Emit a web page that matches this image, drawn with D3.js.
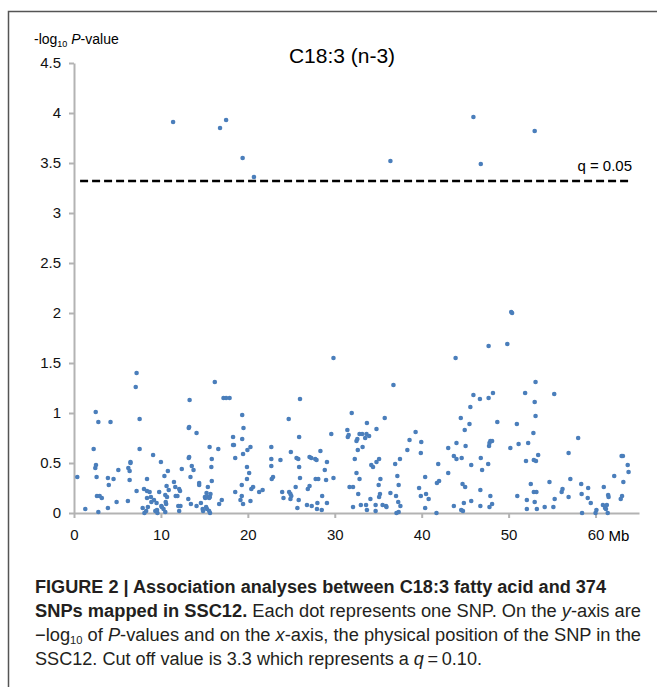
<!DOCTYPE html>
<meta charset="utf-8">
<script src="https://d3js.org/d3.v7.min.js"></script>
<style>
body { margin: 0; background: #fff; }
svg { display: block; }
.tick text { font-family: "Liberation Sans Narrow", "Liberation Sans", Arial, sans-serif; font-size: 15px; fill: #111; }
.axis path, .axis line { stroke: #b3b3b3; stroke-width: 2; }
.cap { font-family: "Liberation Sans Narrow", "Liberation Sans", Arial, sans-serif; font-size: 18px; fill: #231f20; }
</style>
<svg width="657" height="687"></svg>
<script>
// SNP position (Mb) and -log10 P-value
const snps = [
  [0.38,0.36],[1.3,0.04],[2.26,0.64],[2.45,0.45],[2.53,0.48],[2.5,1.01],[2.6,0.36],[2.64,0.17],[2.8,0.91],[2.8,0.01],
  [2.95,0.17],[3.2,0.15],[3.9,0.35],[3.9,0.05],[4.0,0.28],[4.2,0.91],[4.55,0.34],[4.9,0.11],[5.1,0.43],[6.2,0.12],
  [6.25,0.45],[6.4,0.42],[6.4,0.33],[6.5,0.51],[6.5,0.5],[7.1,1.26],[7.2,1.4],[7.2,0.22],[7.55,0.94],[7.55,0.64],
  [7.9,0.05],[8.05,0.24],[8.1,0.0],[8.3,0.02],[8.4,0.34],[8.4,0.22],[8.4,0.15],[8.5,0.06],[8.7,0.21],[8.85,0.16],
  [8.9,0.11],[9.1,0.58],[9.2,0.13],[9.35,0.02],[9.5,0.1],[9.55,0.03],[9.6,0.0],[9.8,0.21],[10.0,0.51],[10.05,0.07],
  [10.1,0.06],[10.3,0.04],[10.4,0.37],[10.5,0.18],[10.5,0.01],[10.55,0.11],[10.6,0.09],[10.65,0.27],[10.7,0.16],[10.8,0.42],
  [10.9,0.23],[11.4,3.91],[11.5,0.31],[11.65,0.26],[11.7,0.17],[11.9,0.17],[12.0,0.07],[12.1,0.24],[12.1,0.02],[12.2,0.22],
  [12.25,0.07],[12.4,0.44],
  [13.15,0.14],[13.2,0.85],[13.25,0.86],[13.2,0.55],[13.25,0.56],[13.3,1.13],[13.4,0.36],[13.45,0.09],[13.55,0.47],[13.75,0.43],
  [14.1,0.8],[14.1,0.07],[14.4,0.3],[14.4,0.28],[14.6,0.1],[14.8,0.04],[14.85,0.02],[15.06,0.16],[15.1,0.15],[15.2,0.06],
  [15.25,0.2],[15.3,0.04],[15.37,0.16],[15.4,0.26],[15.55,0.15],[15.55,0.02],[15.6,0.66],[15.63,0.16],[15.65,0.0],[15.7,0.19],
  [15.8,0.46],[15.85,0.54],[15.85,0.32],[16.2,1.31],[16.6,0.64],[16.7,0.09],[16.8,3.85],[17.0,0.13],[17.2,1.15],[17.5,1.15],
  [17.5,3.93],[17.9,1.15],[18.3,0.76],[18.3,0.68],[18.4,0.68],[18.55,0.55],[18.55,0.21],[19.15,0.13],[19.3,0.28],[19.3,0.17],
  [19.35,0.98],[19.35,0.74],[19.4,3.55],[19.45,0.59],[19.45,0.09],[19.5,0.85],[19.9,0.46],[19.9,0.34],[19.95,0.63],[20.15,0.4],
  [20.3,0.66],[20.3,0.12],[20.4,0.24],[20.6,0.26],[20.7,3.36],[21.3,0.21],[21.7,0.23],[22.7,0.66],[22.7,0.54],[22.7,0.47],
  [22.75,0.34],[22.9,0.36],[23.75,0.53],[23.95,0.21],[24.1,0.15],[24.7,0.94],[24.75,0.21],[24.9,0.19],[24.9,0.14],[24.95,0.61],
  [25.0,0.17],[25.5,0.26],[25.6,0.55],[25.7,0.05],[25.8,0.54],[25.85,0.13],[25.9,0.76],[25.9,0.46],[26.0,0.35],[26.0,1.14],
  [26.8,0.08],[26.9,0.24],[27.1,0.27],[27.1,0.56],[27.3,0.55],[27.35,0.07],[27.75,0.54],[27.8,0.34],[27.9,0.53],[27.95,0.04],
  [28.0,0.1],[28.1,0.34],[28.35,0.62],[28.5,0.03],[28.55,0.17],[28.85,0.43],[29.0,0.33],[29.1,0.51],[29.1,0.1],[29.6,0.79],
  [29.85,1.55],[29.85,0.35],[31.45,0.83],[31.5,0.76],[31.6,0.78],[31.7,0.26],[31.95,1.0],[32.1,0.26],[32.1,0.06],[32.3,0.54],
  [32.5,0.72],[32.5,0.4],[32.6,0.74],[32.65,0.63],[32.7,0.19],[32.85,0.79],[32.85,0.34],[33.0,0.08],[33.15,0.79],[33.2,0.66],
  [33.5,0.75],[33.6,0.08],[33.65,0.79],[33.7,0.9],[33.7,0.03],[33.95,0.77],[34.1,0.14],[34.2,0.48],[34.4,0.46],[34.7,0.08],
  [34.7,0.02],[34.8,0.84],[34.8,0.51],[35.05,0.28],[35.1,0.54],[35.1,0.16],[35.2,0.19],[35.25,0.34],[35.5,0.08],[35.75,0.95],
  [35.9,0.07],[35.95,0.06],[36.4,0.2],[36.4,3.52],[36.75,1.28],[36.95,0.49],[37.05,0.17],[37.1,0.0],[37.2,0.37],[37.3,0.11],
  [37.35,0.28],[37.35,0.01],[37.5,0.54],[37.55,0.07],[38.35,0.63],[38.6,0.73],
  [39.3,0.81],[39.7,0.25],[39.9,0.6],[39.9,0.17],[39.95,0.71],[40.4,0.36],[40.4,0.05],[40.5,0.19],[40.8,0.14],[41.7,0.0],
  [41.75,0.3],[41.9,0.49],[42.0,0.32],[43.05,0.65],[43.05,0.4],[43.7,0.57],[43.7,0.07],[43.9,1.55],[44.0,0.7],[44.0,0.54],
  [44.5,0.95],[44.55,0.03],[44.6,0.55],[44.7,0.29],[44.75,0.02],[44.85,0.1],[44.95,0.83],[45.0,0.26],[45.05,0.67],[45.5,0.89],
  [45.6,1.06],[45.7,0.48],[45.7,0.12],[45.95,1.18],[45.95,3.96],[46.7,1.14],[46.75,0.23],[46.75,0.07],[46.8,0.55],[46.8,3.49],
  [46.95,0.43],[47.65,0.49],[47.7,1.67],[47.7,1.15],[47.75,0.67],[47.8,0.7],[47.8,0.06],[47.9,0.72],[47.9,0.17],[48.1,0.72],
  [48.1,0.09],[48.2,1.2],[48.7,0.91],[49.85,1.69],[50.2,0.65],[50.3,2.01],[50.4,2.0],[50.95,0.89],[51.0,0.17],[51.15,0.69],
  [51.9,1.2],[52.0,0.52],[52.1,0.13],[52.1,0.04],
  [52.25,0.7],[52.55,0.29],[52.85,0.8],[52.9,0.53],[52.9,0.21],[53.0,1.11],[53.0,0.11],[53.0,3.82],[53.1,1.31],[53.1,0.97],
  [53.15,0.52],[53.2,0.21],[53.25,0.04],[53.4,0.58],[54.15,0.06],[54.7,0.31],[55.15,0.06],[55.25,1.19],[55.3,0.14],[56.1,0.21],
  [56.2,0.24],[56.9,0.6],[56.9,0.16],[57.1,0.34],[58.0,0.75],[58.35,0.29],[58.4,0.19],[58.45,0.0],[59.1,0.15],[59.15,0.25],
  [59.45,0.1],[60.0,0.0],[60.1,0.03],[60.85,0.08],[60.95,0.26],[61.1,0.05],[61.2,0.04],[61.3,0.08],[61.4,0.0],[61.45,0.18],
  [61.5,0.16],[62.15,0.37],[62.9,0.14],[63.0,0.57],[63.05,0.17],[63.15,0.57],[63.2,0.31],[63.7,0.48],[63.8,0.41]
]
const xTicks = [0, 10, 20, 30, 40, 50, 60]
const yTicks = [0, 0.5, 1, 1.5, 2, 2.5, 3, 3.5, 4, 4.5]
const cutoff = 3.32
const cutoffLabel = "q = 0.05"
const title = "C18:3 (n-3)"

let svg = d3.select("svg")

// figure frame (cropped on the right and bottom)
svg.append("path")
    .attr("d", "M8.5,700V11.5H700")
    .attr("fill", "none")
    .attr("stroke", "#555")
    .attr("stroke-width", 1.5)

let x = d3.scaleLinear().domain([0, 65]).range([74, 639])
let y = d3.scaleLinear().domain([0, 4.5]).range([513, 63])

svg.append("g")
    .attr("class", "axis")
    .attr("transform", "translate(74,0)")
    .call(d3.axisLeft(y).tickValues(yTicks).tickSize(5).tickSizeOuter(0).tickPadding(8).tickFormat(d3.format("")))

svg.append("g")
    .attr("class", "axis")
    .attr("transform", "translate(0,513)")
    .call(d3.axisBottom(x).tickValues(xTicks).tickSize(5).tickSizeOuter(0).tickPadding(11).tickFormat(d3.format("")))

svg.selectAll(".axis .tick line").attr("stroke-width", 1.5)

svg.append("text")
    .attr("x", x(60) + 13)
    .attr("y", 541)
    .attr("font-family", "Liberation Sans Narrow, Liberation Sans, Arial, sans-serif")
    .attr("font-size", 15)
    .text("Mb")

// threshold
svg.append("line")
    .attr("x1", x(0.7)).attr("x2", x(64.2))
    .attr("y1", y(cutoff)).attr("y2", y(cutoff))
    .attr("stroke", "#000")
    .attr("stroke-width", 2.6)
    .attr("stroke-dasharray", "8,4")

svg.append("text")
    .attr("x", x(64.2))
    .attr("y", y(cutoff) - 10)
    .attr("text-anchor", "end")
    .attr("font-family", "Liberation Sans Narrow, Liberation Sans, Arial, sans-serif")
    .attr("font-size", 15)
    .text(cutoffLabel)

// points
svg.append("g").selectAll("circle")
    .data(snps)
    .enter()
    .append("circle")
    .attr("cx", d => x(d[0]))
    .attr("cy", d => y(d[1]))
    .attr("r", 2.3)
    .attr("fill", "#4a7ebb")

// titles
svg.append("text")
    .attr("x", 342)
    .attr("y", 63)
    .attr("text-anchor", "middle")
    .attr("font-family", "Liberation Sans, Arial, sans-serif")
    .attr("font-size", 21)
    .text(title)

let yl = svg.append("text")
    .attr("x", 34)
    .attr("y", 44)
    .attr("font-family", "Liberation Sans Narrow, Liberation Sans, Arial, sans-serif")
    .attr("font-size", 14)
yl.append("tspan").text("-log")
yl.append("tspan").attr("font-size", 9).attr("dy", 3).text("10")
yl.append("tspan").attr("dy", -3).attr("font-style", "italic").text(" P")
yl.append("tspan").text("-value")

// caption
let cap = svg.append("g").attr("class", "cap")
let l1 = cap.append("text").attr("x", 35).attr("y", 593).attr("font-weight", "bold")
    .text("FIGURE 2 | Association analyses between C18:3 fatty acid and 374")
let l2 = cap.append("text").attr("x", 35).attr("y", 617)
l2.append("tspan").attr("font-weight", "bold").text("SNPs mapped in SSC12.")
l2.append("tspan").text(" Each dot represents one SNP. On the ")
l2.append("tspan").attr("font-style", "italic").text("y")
l2.append("tspan").text("-axis are")
let l3 = cap.append("text").attr("x", 35).attr("y", 641)
l3.append("tspan").text("\u2212log")
l3.append("tspan").attr("font-size", 11).attr("dy", 3).text("10")
l3.append("tspan").attr("dy", -3).text(" of ")
l3.append("tspan").attr("font-style", "italic").text("P")
l3.append("tspan").text("-values and on the ")
l3.append("tspan").attr("font-style", "italic").text("x")
l3.append("tspan").text("-axis, the physical position of the SNP in the")
let l4 = cap.append("text").attr("x", 35).attr("y", 665)
l4.append("tspan").text("SSC12. Cut off value is 3.3 which represents a ")
l4.append("tspan").attr("font-style", "italic").text("q")
l4.append("tspan").text("\u2009=\u20090.10.")

// stretch caption lines to the widths seen in the figure
let capWidths = [571, 606, 606, 447]
;[l1, l2, l3, l4].forEach((t, i) => {
    t.attr("textLength", capWidths[i]).attr("lengthAdjust", "spacingAndGlyphs")
})
</script>
